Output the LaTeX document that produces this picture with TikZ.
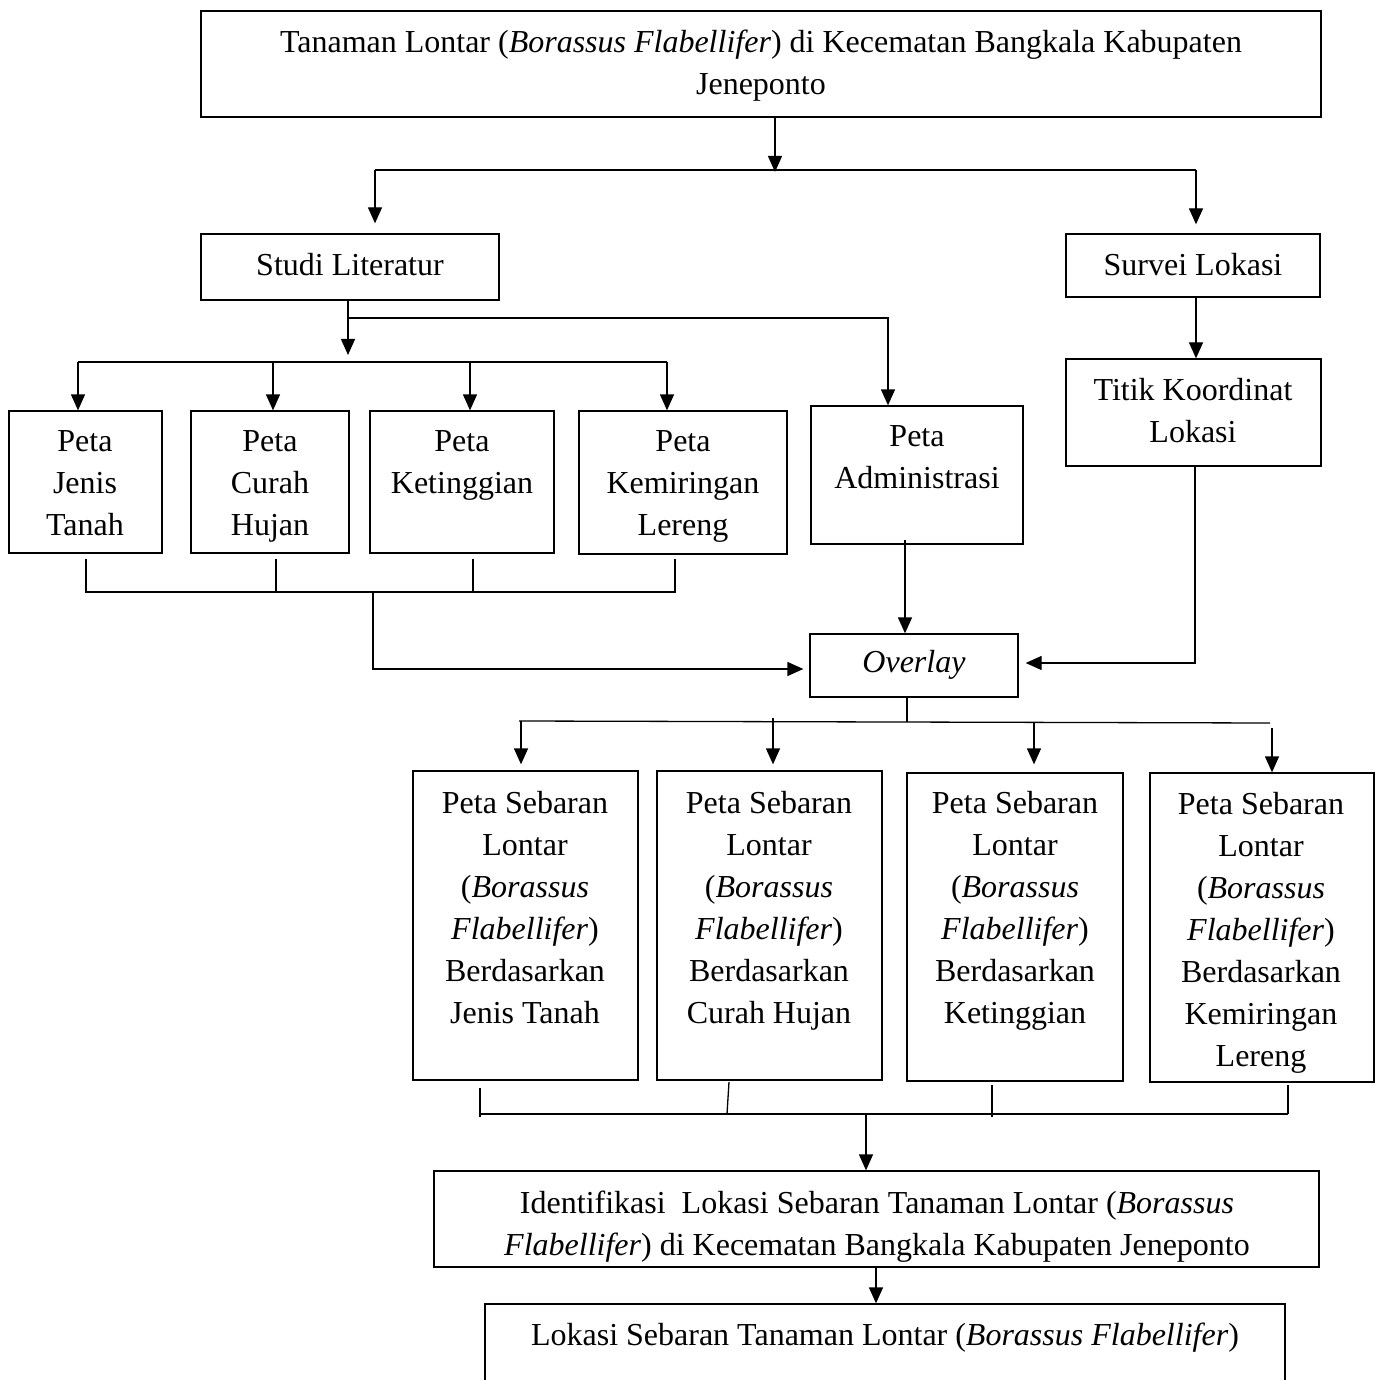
\documentclass[tikz,border=0pt]{standalone}
\usepackage{fontspec}
\setmainfont{Liberation Serif}
\usetikzlibrary{arrows.meta,fit}
\begin{document}
\begin{tikzpicture}[x=1pt,y=-1pt,
  box/.style={draw, line width=1.3pt, inner sep=0pt, rectangle},
  txt/.style={align=center, inner sep=0pt, anchor=north, font=\fontsize{32}{42}\selectfont},
  ln/.style={line width=1.3pt},
  arr/.style={line width=1.3pt, -{Triangle[width=14pt,length=16pt]}},
]
\fill[white] (0,0) rectangle (1382,1380);
\useasboundingbox (0,0) rectangle (1382,1380);

% boxes
\node[box, fit={(201,11) (1321,117)}] (top) {};
\node[box, fit={(201,234) (499,300)}] (studi) {};
\node[box, fit={(1066,234) (1320,297)}] (survei) {};
\node[box, fit={(9,411) (162,553)}] (pjt) {};
\node[box, fit={(191,411) (349,553)}] (pch) {};
\node[box, fit={(370,411) (554,553)}] (pkt) {};
\node[box, fit={(579,411) (787,554)}] (pkl) {};
\node[box, fit={(811,406) (1023,544)}] (adm) {};
\node[box, fit={(1066,359) (1321,466)}] (titik) {};
\node[box, fit={(810,634) (1018,697)}] (ov) {};
\node[box, fit={(413,771) (638,1080)}] (s1) {};
\node[box, fit={(657,771) (882,1080)}] (s2) {};
\node[box, fit={(907,773) (1123,1081)}] (s3) {};
\node[box, fit={(1150,773) (1374,1082)}] (s4) {};
\node[box, fit={(434,1171) (1319,1267)}] (ident) {};
\node[box, fit={(485,1304) (1285,1430)}] (final) {};

% texts
\node[txt] (ttop) at (761,30) {Tanaman Lontar (\textit{Borassus Flabellifer}) di Kecematan Bangkala Kabupaten\\Jeneponto};
\node[txt] (tstudi) at (350,253) {Studi Literatur};
\node[txt] (tsurvei) at (1193,253) {Survei Lokasi};
\node[txt] (tpjt) at (85,430) {Peta\\Jenis\\Tanah};
\node[txt] (tpch) at (270,430) {Peta\\Curah\\Hujan};
\node[txt] (tpkt) at (462,430) {Peta\\Ketinggian};
\node[txt] (tpkl) at (683,430) {Peta\\Kemiringan\\Lereng};
\node[txt] (tadm) at (917,425) {Peta\\Administrasi};
\node[txt] (ttitik) at (1193,378) {Titik Koordinat\\Lokasi};
\node[txt] (tov) at (914,650) {\textit{Overlay}};
\node[txt] (ts1) at (525,791) {Peta Sebaran\\Lontar\\(\textit{Borassus}\\\textit{Flabellifer})\\Berdasarkan\\Jenis Tanah};
\node[txt] (ts2) at (769,791) {Peta Sebaran\\Lontar\\(\textit{Borassus}\\\textit{Flabellifer})\\Berdasarkan\\Curah Hujan};
\node[txt] (ts3) at (1015,791) {Peta Sebaran\\Lontar\\(\textit{Borassus}\\\textit{Flabellifer})\\Berdasarkan\\Ketinggian};
\node[txt] (ts4) at (1261,792) {Peta Sebaran\\Lontar\\(\textit{Borassus}\\\textit{Flabellifer})\\Berdasarkan\\Kemiringan\\Lereng};
\node[txt] (tident) at (877,1191) {Identifikasi\ \ Lokasi Sebaran Tanaman Lontar (\textit{Borassus}\\\textit{Flabellifer}) di Kecematan Bangkala Kabupaten Jeneponto};
\node[txt] (tfinal) at (885,1323) {Lokasi Sebaran Tanaman Lontar (\textit{Borassus Flabellifer})};

% top split
\coordinate (j1) at (775,172);
\coordinate (jl) at (375,170);
\coordinate (jr) at (1196,170);
\draw[arr] (top.south -| j1) -- (j1);
\draw[ln] (jl) -- (jr);
\draw[arr, shorten >=10pt] (jl) -- (studi.north -| jl);
\draw[arr, shorten >=9pt] (jr) -- (survei.north -| jr);

% studi literatur
\coordinate (sa) at (348,355);
\coordinate (sb) at (348,318);
\coordinate (sc) at (888,318);
\draw[arr] (studi.south -| sa) -- (sa);
\draw[arr] (sb) -- (sc) -- (adm.north -| sc);
\coordinate (m1) at (78,362);
\coordinate (m2) at (273,362);
\coordinate (m3) at (470,362);
\coordinate (m4) at (667,362);
\draw[ln] (m1) -- (m4);
\draw[arr] (m1) -- (pjt.north -| m1);
\draw[arr] (m2) -- (pch.north -| m2);
\draw[arr] (m3) -- (pkt.north -| m3);
\draw[arr] (m4) -- (pkl.north -| m4);

% lower bracket of maps
\coordinate (p1) at (86,559);
\coordinate (p2) at (276,559);
\coordinate (p3) at (473,559);
\coordinate (p4) at (675,559);
\coordinate (q1) at (86,592);
\coordinate (q2) at (276,592);
\coordinate (q3) at (473,592);
\coordinate (q4) at (675,592);
\coordinate (q5) at (373,592);
\coordinate (q6) at (373,669);
\draw[ln] (p1) -- (q1) -- (q4) -- (p4);
\draw[ln] (p2) -- (q2);
\draw[ln] (p3) -- (q3);
\draw[arr, shorten >=6pt] (q5) -- (q6) -- (ov.west |- q6);

% administrasi -> overlay
\coordinate (a1) at (905,540);
\draw[arr] (a1) -- (ov.north -| a1);

% survei -> titik -> overlay
\coordinate (r1) at (1196,300);
\coordinate (r2) at (1195,663);
\draw[arr] (survei.south -| r1) -- (titik.north -| r1);
\draw[arr, shorten >=7pt] (titik.south -| r2) -- (r2) -- (ov.east |- r2);

% overlay split
\coordinate (o1) at (907,722);
\coordinate (h1) at (519,721);
\coordinate (h2) at (1270,723);
\coordinate (k1) at (521,721);
\coordinate (k2) at (773,718);
\coordinate (k3) at (1034,722);
\coordinate (k4) at (1272,728);
\draw[ln] (ov.south -| o1) -- (o1);
\draw[ln] (h1) -- (h2);
\draw[arr, shorten >=6pt] (k1) -- (s1.north -| k1);
\draw[arr, shorten >=6pt] (k2) -- (s2.north -| k2);
\draw[arr, shorten >=8pt] (k3) -- (s3.north -| k3);
\draw[arr] (k4) -- (s4.north -| k4);

% lower bracket of sebaran maps
\coordinate (u1) at (480,1088);
\coordinate (u2) at (729,1082);
\coordinate (u3) at (992,1085);
\coordinate (u4) at (1288,1085);
\coordinate (v1) at (480,1117);
\coordinate (v2) at (727,1114);
\coordinate (v3) at (992,1117);
\coordinate (v4) at (1288,1114);
\coordinate (w1) at (480,1114);
\coordinate (w2) at (866,1115);
\draw[ln] (u1) -- (v1);
\draw[ln] (u2) -- (v2);
\draw[ln] (u3) -- (v3);
\draw[ln] (u4) -- (v4);
\draw[ln] (w1) -- (v4);
\draw[arr] (w2) -- (ident.north -| w2);

% identifikasi -> final
\coordinate (f1) at (876,1267);
\draw[arr] (ident.south -| f1) -- (final.north -| f1);
\end{tikzpicture}
\end{document}
